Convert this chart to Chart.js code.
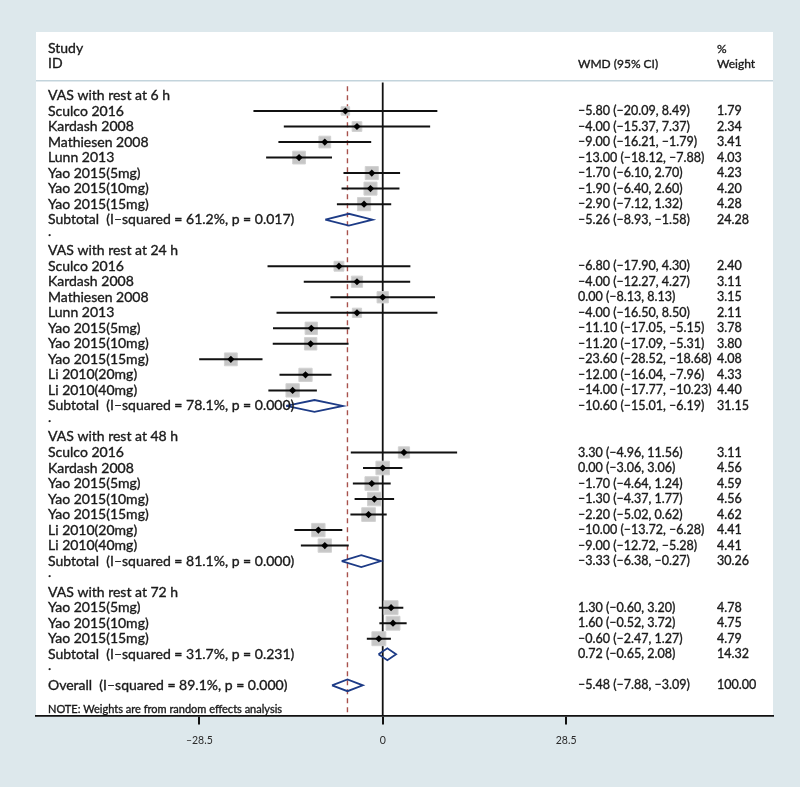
<!DOCTYPE html>
<html>
<head>
<meta charset="utf-8">
<script src="https://cdn.jsdelivr.net/npm/chart.js@4.4.0/dist/chart.umd.min.js"></script>
<style>
  html, body { margin: 0; padding: 0; background: #dde8ec; }
  #wrap { width: 800px; height: 787px; }
</style>
</head>
<body>
<div id="wrap"><canvas id="forestChart" width="800" height="787"></canvas></div>
<script>
// one entry per row of the plot, top to bottom
const rowLabels = [
  'VAS with rest at 6 h', 'Sculco 2016', 'Kardash 2008', 'Mathiesen 2008', 'Lunn 2013',
  'Yao 2015(5mg)', 'Yao 2015(10mg)', 'Yao 2015(15mg)', 'Subtotal  (I\u2013squared = 61.2%, p = 0.017)', '.',
  'VAS with rest at 24 h', 'Sculco 2016', 'Kardash 2008', 'Mathiesen 2008', 'Lunn 2013',
  'Yao 2015(5mg)', 'Yao 2015(10mg)', 'Yao 2015(15mg)', 'Li 2010(20mg)', 'Li 2010(40mg)',
  'Subtotal  (I\u2013squared = 78.1%, p = 0.000)', '.',
  'VAS with rest at 48 h', 'Sculco 2016', 'Kardash 2008', 'Yao 2015(5mg)', 'Yao 2015(10mg)',
  'Yao 2015(15mg)', 'Li 2010(20mg)', 'Li 2010(40mg)', 'Subtotal  (I\u2013squared = 81.1%, p = 0.000)', '.',
  'VAS with rest at 72 h', 'Yao 2015(5mg)', 'Yao 2015(10mg)', 'Yao 2015(15mg)',
  'Subtotal  (I\u2013squared = 31.7%, p = 0.231)', '.',
  'Overall  (I\u2013squared = 89.1%, p = 0.000)'
];
const rowKinds = [
  'group', 'study', 'study', 'study', 'study', 'study', 'study', 'study', 'pooled', 'gap',
  'group', 'study', 'study', 'study', 'study', 'study', 'study', 'study', 'study', 'study', 'pooled', 'gap',
  'group', 'study', 'study', 'study', 'study', 'study', 'study', 'study', 'pooled', 'gap',
  'group', 'study', 'study', 'study', 'pooled', 'gap',
  'pooled'
];
const estimates = [
  null, -5.80, -4.00, -9.00, -13.00, -1.70, -1.90, -2.90, -5.26, null,
  null, -6.80, -4.00, 0.00, -4.00, -11.10, -11.20, -23.60, -12.00, -14.00, -10.60, null,
  null, 3.30, 0.00, -1.70, -1.30, -2.20, -10.00, -9.00, -3.33, null,
  null, 1.30, 1.60, -0.60, 0.72, null,
  -5.48
];
const lowerCI = [
  null, -20.09, -15.37, -16.21, -18.12, -6.10, -6.40, -7.12, -8.93, null,
  null, -17.90, -12.27, -8.13, -16.50, -17.05, -17.09, -28.52, -16.04, -17.77, -15.01, null,
  null, -4.96, -3.06, -4.64, -4.37, -5.02, -13.72, -12.72, -6.38, null,
  null, -0.60, -0.52, -2.47, -0.65, null,
  -7.88
];
const upperCI = [
  null, 8.49, 7.37, -1.79, -7.88, 2.70, 2.60, 1.32, -1.58, null,
  null, 4.30, 4.27, 8.13, 8.50, -5.15, -5.31, -18.68, -7.96, -10.23, -6.19, null,
  null, 11.56, 3.06, 1.24, 1.77, 0.62, -6.28, -5.28, -0.27, null,
  null, 3.20, 3.72, 1.27, 2.08, null,
  -3.09
];
const weights = [
  null, 1.79, 2.34, 3.41, 4.03, 4.23, 4.20, 4.28, 24.28, null,
  null, 2.40, 3.11, 3.15, 2.11, 3.78, 3.80, 4.08, 4.33, 4.40, 31.15, null,
  null, 3.11, 4.56, 4.59, 4.56, 4.62, 4.41, 4.41, 30.26, null,
  null, 4.78, 4.75, 4.79, 14.32, null,
  100.00
];
const xTickValues = [-28.5, 0, 28.5];
const noteText = 'NOTE: Weights are from random effects analysis';

const FONT = 'Lato, "Open Sans", sans-serif';
const X_MIN = -53.88, X_MAX = 60.65;
const Y_TOP = -4.09, Y_BOTTOM = 39.94;
const overallIdx = rowKinds.lastIndexOf('pooled');
const overallEst = estimates[overallIdx];

const fmt = v => v.toFixed(2).replace('-', '\u2013');

// build datasets
const squares = [], markers = [], ciDatasets = [], diamondDatasets = [];
rowKinds.forEach((kind, i) => {
  if (kind === 'study') {
    squares.push({ x: estimates[i], y: i, w: weights[i] });
    markers.push({ x: estimates[i], y: i });
    ciDatasets.push({
      data: [{ x: lowerCI[i], y: i }, { x: upperCI[i], y: i }],
      showLine: true, borderColor: '#111', borderWidth: 2, pointRadius: 0, order: 4
    });
  } else if (kind === 'pooled') {
    const h = 0.38;
    diamondDatasets.push({
      data: [
        { x: lowerCI[i], y: i }, { x: estimates[i], y: i - h }, { x: upperCI[i], y: i },
        { x: estimates[i], y: i + h }, { x: lowerCI[i], y: i }
      ],
      showLine: true, borderColor: '#1d3b86', borderWidth: 1.8, pointRadius: 0,
      fill: false, tension: 0, order: 2
    });
  }
});

const datasets = [
  {
    label: 'estimate',
    data: markers, pointStyle: 'rectRot', pointRadius: 3.6,
    backgroundColor: '#000', borderColor: '#000', borderWidth: 0, order: 1
  },
  ...diamondDatasets,
  ...ciDatasets,
  {
    label: 'weight',
    data: squares, pointStyle: 'rect',
    pointRadius: ctx => ctx.raw ? 4.5 * Math.sqrt(ctx.raw.w) : 0,
    backgroundColor: '#c6c6c6', borderColor: '#d2d2d2', borderWidth: 1, order: 5
  },
  {
    label: 'null line',
    data: [{ x: 0, y: -0.84 }, { x: 0, y: Y_BOTTOM }],
    showLine: true, borderColor: '#111', borderWidth: 1.8, pointRadius: 0, order: 7
  },
  {
    label: 'overall line',
    data: [{ x: overallEst, y: -0.6 }, { x: overallEst, y: Y_BOTTOM }],
    showLine: true, borderColor: '#a8514c', borderWidth: 1.4, borderDash: [5, 4],
    pointRadius: 0, order: 6
  },
  {
    label: 'header rule',
    data: [{ x: X_MIN, y: -0.95 }, { x: X_MAX, y: -0.95 }],
    showLine: true, borderColor: '#c3d4dc', borderWidth: 1.5, pointRadius: 0, order: 8
  }
];

const panelPlugin = {
  id: 'panel',
  beforeDraw(chart) {
    const { ctx, chartArea: a } = chart;
    ctx.save();
    ctx.fillStyle = '#dde8ec';
    ctx.fillRect(0, 0, chart.width, chart.height);
    ctx.fillStyle = '#ffffff';
    ctx.fillRect(a.left, a.top, a.right - a.left, a.bottom - a.top);
    ctx.restore();
  }
};

function put(ctx, txt, x, y) {
  ctx.fillText(txt, x, y);
  ctx.strokeText(txt, x, y);
}

const textPlugin = {
  id: 'forestText',
  afterDatasetsDraw(chart) {
    const { ctx, chartArea: a, scales: { y } } = chart;
    const labelX = a.left + 12, wmdX = 578, wtX = 717;
    ctx.save();
    ctx.fillStyle = '#1a1a1a';
    ctx.strokeStyle = '#1a1a1a';
    ctx.lineWidth = 0.35;
    ctx.textBaseline = 'middle';
    ctx.textAlign = 'left';
    ctx.font = '14px ' + FONT;
    put(ctx, 'Study', labelX, y.getPixelForValue(-3.0));
    put(ctx, 'ID', labelX, y.getPixelForValue(-2.04));
    rowLabels.forEach((lab, i) => {
      const py = y.getPixelForValue(i);
      put(ctx, lab, labelX, lab === '.' ? py - 4 : py);
    });
    ctx.font = '12px ' + FONT;
    put(ctx, 'WMD (95% CI)', wmdX, y.getPixelForValue(-2.04));
    put(ctx, '%', wtX, y.getPixelForValue(-3.0));
    put(ctx, 'Weight', wtX, y.getPixelForValue(-2.04));
    ctx.font = '12.5px ' + FONT;
    rowLabels.forEach((lab, i) => {
      if (estimates[i] === null) return;
      const py = y.getPixelForValue(i);
      put(ctx, fmt(estimates[i]) + ' (' + fmt(lowerCI[i]) + ', ' + fmt(upperCI[i]) + ')', wmdX, py);
      put(ctx, weights[i].toFixed(2), wtX, py);
    });
    ctx.font = '11px ' + FONT;
    put(ctx, noteText, labelX, y.getPixelForValue(39.54));
    ctx.restore();
  }
};

new Chart(document.getElementById('forestChart'), {
  type: 'scatter',
  data: { datasets },
  options: {
    responsive: false,
    animation: false,
    layout: { padding: { left: 36, right: 27, top: 32, bottom: 30 } },
    plugins: { legend: { display: false }, tooltip: { enabled: false } },
    scales: {
      x: {
        type: 'linear', min: X_MIN, max: X_MAX,
        afterBuildTicks: axis => { axis.ticks = xTickValues.map(v => ({ value: v })); },
        grid: { display: true, drawOnChartArea: false, drawTicks: true, tickLength: 9, color: '#111', lineWidth: 2 },
        border: { display: true, color: '#111', width: 1.8 },
        ticks: {
          color: '#2a2a2a', font: { family: FONT, size: 10.5 }, padding: 10,
          callback: v => String(v).replace('-', '\u2013')
        }
      },
      y: { type: 'linear', display: false, reverse: true, min: Y_TOP, max: Y_BOTTOM }
    }
  },
  plugins: [panelPlugin, textPlugin]
});
</script>
</body>
</html>
